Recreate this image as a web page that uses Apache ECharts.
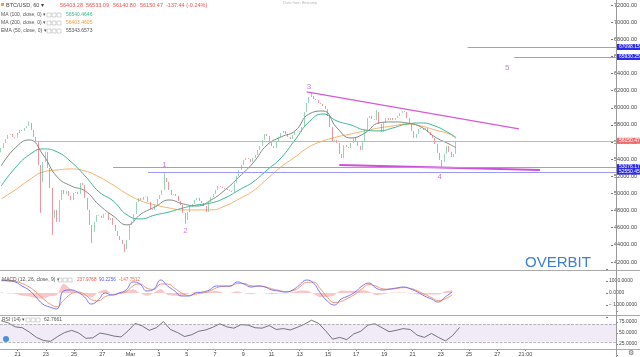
<!DOCTYPE html>
<html><head><meta charset="utf-8">
<script src="https://cdn.jsdelivr.net/npm/echarts@6/dist/echarts.min.js"></script>
<style>html,body{margin:0;padding:0;background:#fff}#c{width:640px;height:357px}</style>
</head><body><div id="c"></div>
<script>
// ---------------- DATA ----------------
// 4-hour closes (BTC/USD), first slot starts Feb 19 20:00
const firstOpen = 54800;
const closes = [
 55310,55900,56360,56830,56950,56600,56520,57060,57410,57300,
 57650,57880,58230,57410,56600,56010,53330,51340,53680,54850,
 52980,50640,47140,48080,46680,49240,50410,49940,50290,49710,
 49240,50060,50180,49940,51230,50990,49480,48080,46330,45510,
 46680,47490,47400,47140,47610,47730,46910,47140,46330,45630,
 45040,44580,44110,43520,44580,46330,46790,47610,49010,49480,
 49240,49590,49650,49010,48190,48080,48660,49360,49830,50410,
 51810,51340,50410,49830,49940,49710,49130,48660,47730,46910,
 47840,48430,48780,49240,49480,49130,48890,48540,47840,49010,
 49590,49940,50410,50880,50800,50640,50530,50410,50290,50180,
 51230,52040,52740,53330,53910,54150,54030,53680,54150,54500,
 55080,55550,56250,56950,56710,56130,55550,55310,56010,56600,
 57060,57300,56950,56600,56360,56830,57300,57250,57180,57760,
 59510,60560,61260,61380,61030,60910,60560,60450,60210,59860,
 59050,57760,56010,56250,55900,54610,54150,55660,55430,55310,
 55900,56480,56130,55550,55080,56130,57410,58810,59050,58700,
 58580,59510,58110,57180,58230,58810,58580,58810,58580,58810,
 59050,59400,59630,59510,58810,58110,57300,56480,56950,57530,
 57650,57410,57650,57180,56830,56480,55780,54730,53910,53680,
 54610,55550,54850,54260,54610,56150.47
];
const wickLows  = [[17,47730],[22,45160],[39,44230],[53,43180],[79,46440],[189,53100]];
const wickHighs = [[12,58400],[70,52510],[133,61730],[161,59750]];
// moving averages, one value per day (last = current)
const ma100 = [50880,52980,54500,55200,54850,53680,52040,50180,49130,47490,47030,47490,47840,48310,48660,48890,49480,50410,51340,52740,54150,56250,58350,59280,58460,57990,57410,57300,57650,58110,58230,57880,57060,56540.46];
const ma200 = [49360,50410,51580,52510,52740,52860,52630,51930,50990,49940,49130,48660,48310,48080,48080,48080,48540,49360,50290,51690,53100,54260,55430,56130,56600,56950,57300,57650,57880,58110,57880,57410,56950,56403.46];
const ema50 = [53210,55310,56250,54500,51930,50880,50290,48660,47380,46330,47610,48430,49240,48780,48540,49240,50410,51930,53560,55660,56600,57300,59280,59630,57650,56480,57060,58230,58350,58230,57760,56600,55780,55343.66];
// MACD / signal / RSI, one value every 12 hours
const macdLine = [1080,1000,920,580,250,-330,-920,-1170,-1330,170,250,80,-330,-920,-580,0,-170,0,250,920,750,170,330,1080,580,170,-250,-250,0,80,250,580,580,580,920,750,500,580,500,250,170,80,250,670,1080,830,0,-670,-1000,-500,-250,80,580,830,420,250,330,420,500,330,80,-250,-500,-750,-330,90.23];
const signalLine = [1000,1040,980,800,520,100,-450,-900,-1150,-600,-100,80,-100,-550,-650,-300,-150,-50,100,600,750,400,300,750,750,400,0,-200,-100,0,150,420,550,570,780,780,600,580,530,350,220,120,180,480,880,900,350,-350,-800,-700,-420,-100,350,700,580,350,320,380,450,380,180,-100,-380,-620,-480,-147.75];
const rsi = [78,73,64,62,52,40,33,31,42,51,56,50,38,39,50,47,43,41,55,72,66,56,62,76,58,51,42,46,54,57,63,71,64,61,69,68,62,61,67,58,60,57,63,70,79,72,55,36,40,35,48,54,68,71,62,53,56,60,58,45,40,49,40,32,44,62.77];
const xTickLabels = ['21','23','25','27','Mar','3','5','7','9','11','13','15','17','19','21','23','25','27','21:00'];
const lastPrice = 56150.47;
const supportLevels = [53076.17, 52550.45];
const upperLevels = [67098.15, 65930.25];
const waveLabels = [['1',70,53330],['2',79,45625],['3',132,62430],['4',188,51930],['5',217,64650]];
const upperTrend = [[131.4,61850],[221.5,57530]];
const lowerTrend = [[145,53330],[231.4,52740]];
const legendOHLC = ['56403.28','56533.09','56140.80','56150.47','-137.44 (-0.24%)'];

// ---------------- BUILD ----------------
const N = 262;
const start = Date.UTC(2021,1,19,20);
const cats = [];
for (let i=0;i<N;i++) cats.push(new Date(start + i*4*3600e3).toISOString().slice(5,13));

const candles = closes.map((c,i)=>{
  const o = i ? closes[i-1] : firstOpen;
  return [o, c, Math.min(o,c), Math.max(o,c)];
});
wickLows.forEach(([i,v])=>{candles[i][2]=Math.min(candles[i][2],v);});
wickHighs.forEach(([i,v])=>{candles[i][3]=Math.max(candles[i][3],v);});

const daySlot = k => Math.min(k*6, closes.length-1);
const halfSlot = k => Math.min(k*3, closes.length-1);
const maPts = arr => arr.map((v,k)=>[daySlot(k), v]);
const hPts = arr => arr.map((v,k)=>[halfSlot(k), v]);
const hist = macdLine.map((v,k)=>[halfSlot(k), v - signalLine[k]]);

const FONT = 'Liberation Sans, Arial, sans-serif';
const isTick = idx => idx>=7 && (idx-7)%12===0 && (idx-7)/12 < xTickLabels.length;

const ml = (a,b,color,width)=>[{coord:a, lineStyle:{color,width,type:'solid'}},{coord:b, lineStyle:{color,width,type:'solid'}}];
const markLines = [
  ml(upperTrend[0],upperTrend[1],'#d65ad8',1.3),
  ml(lowerTrend[0],lowerTrend[1],'#cf4fdc',2)
];

const chart = echarts.init(document.getElementById('c'));
const hiddenX = gi => ({type:'category', gridIndex:gi, data:cats, show:false, boundaryGap:true});
const option = {
  animation:false,
  textStyle:{fontFamily:FONT},
  grid:[
    {left:0, right:24, top:5, height:257},
    {left:0, right:24, top:269, height:48},
    {left:0, right:24, top:311, height:44}
  ],
  xAxis:[hiddenX(0), hiddenX(1), {
    type:'category', gridIndex:2, data:cats, boundaryGap:true, offset:-6,
    axisLine:{show:false},
    axisTick:{show:true, interval:(i)=>isTick(i), alignWithLabel:true, length:2, lineStyle:{color:'#888'}},
    axisLabel:{interval:(i)=>isTick(i), formatter:(v,i)=>xTickLabels[(i-7)/12], fontSize:5.5, color:'#444', margin:2}
  }],
  yAxis:[
    {type:'value', gridIndex:0, position:'right', min:42000, max:72000, interval:2000,
     splitLine:{show:false}, axisLine:{show:false}, axisTick:{show:true,length:2,lineStyle:{color:'#777'}},
     axisLabel:{formatter:v=>v.toFixed(2), fontSize:5.5, color:'#444', margin:3}},
    {type:'value', gridIndex:1, position:'right', min:-2000, max:2000, interval:1000,
     splitLine:{show:false}, axisLine:{show:false}, axisTick:{show:true,length:2,lineStyle:{color:'#777'}},
     axisLabel:{formatter:v=>Math.abs(v)===2000?'':v.toFixed(4).replace('-','\u2212 '), fontSize:5, color:'#444', margin:3}},
    {type:'value', gridIndex:2, position:'right', min:0, max:100, interval:25,
     splitLine:{show:false}, axisLine:{show:false}, axisTick:{show:true,length:2,lineStyle:{color:'#777'}},
     axisLabel:{formatter:v=>(v===0||v===100)?'':v.toFixed(4), fontSize:5, color:'#444', margin:3}}
  ],
  series:[
    {type:'line', xAxisIndex:0, yAxisIndex:0, data:maPts(ma200), smooth:0.5, symbol:'none', lineStyle:{color:'#f5b06b', width:1}, z:2},
    {type:'line', xAxisIndex:0, yAxisIndex:0, data:maPts(ma100), smooth:0.5, symbol:'none', lineStyle:{color:'#3db592', width:1}, z:2},
    {type:'line', xAxisIndex:0, yAxisIndex:0, data:maPts(ema50), smooth:0.5, symbol:'none', lineStyle:{color:'#7c8c80', width:1}, z:2},
    {type:'candlestick', xAxisIndex:0, yAxisIndex:0, data:candles, barWidth:'55%', z:3,
     itemStyle:{color:'#53b987', color0:'#eb4d5c', borderColor:'#53b987', borderColor0:'#eb4d5c', borderWidth:0.6},
     markLine:{silent:true, symbol:['none','none'], label:{show:false}, lineStyle:{type:'solid'}, data:markLines, animation:false}},
    {type:'scatter', xAxisIndex:0, yAxisIndex:0, symbolSize:0, z:5,
     data:waveLabels.map(w=>({value:[w[1],w[2]], name:w[0]})),
     label:{show:true, position:'inside', formatter:p=>p.name, color:'#b55ccc', fontSize:8}},
    // MACD
    {type:'line', xAxisIndex:1, yAxisIndex:1, data:hist, smooth:0.3, symbol:'none', lineStyle:{width:0}, areaStyle:{color:'rgba(240,110,110,0.55)', origin:0}},
    {type:'line', xAxisIndex:1, yAxisIndex:1, data:hPts(signalLine), smooth:0.5, symbol:'none', lineStyle:{color:'#f08a6a', width:0.9}},
    {type:'line', xAxisIndex:1, yAxisIndex:1, data:hPts(macdLine), smooth:0.5, symbol:'none', lineStyle:{color:'#6a6af2', width:0.9}},
    // RSI
    {type:'line', xAxisIndex:2, yAxisIndex:2, data:hPts(rsi), symbol:'none', lineStyle:{color:'#555', width:0.8},
     markArea:{silent:true, itemStyle:{color:'rgba(180,140,210,0.18)'}, data:[[{yAxis:30},{yAxis:70}]]},
     markLine:{silent:true, symbol:['none','none'], label:{show:false}, lineStyle:{color:'#999', type:'dashed', width:0.7},
       data:[{yAxis:70},{yAxis:30}]}}
  ]
};
chart.setOption(option);

// ---------------- GRAPHICS ----------------
const g = [];
const line = (x1,y1,x2,y2,c,w)=>({type:'line', shape:{x1,y1,x2,y2}, style:{stroke:c, lineWidth:w||1}, silent:true, z:50});
const txt = (x,y,t,c,fs)=>({type:'text', x, y, style:{text:t, fill:c, font:(fs||5)+'px '+FONT, textVerticalAlign:'middle'}, silent:true, z:60});
g.push(line(0,270.5,640,270.5,'#aaa'));
g.push(line(0,315.5,640,315.5,'#aaa'));
g.push(line(0,349.5,640,349.5,'#aaa'));
g.push(line(616.5,0,616.5,357,'#999'));
// horizontal levels: start slot -> right edge of plot, positioned through the axes
const hline = (slot,v,c)=>{
  const p = chart.convertToPixel({xAxisIndex:0, yAxisIndex:0}, [slot, v]);
  const y = Math.round(p[1]) + 0.5;
  g.push(line(p[0], y, 616, y, c, 1));
};
hline(15, lastPrice, '#f4a0a0');
hline(48, supportLevels[0], '#9a9af0');
hline(63, supportLevels[1], '#9a9af0');
hline(200, upperLevels[0], '#9a9af0');
hline(220, upperLevels[1], '#9a9af0');
// price boxes
const box = (v,c)=>{
  const y = chart.convertToPixel({yAxisIndex:0}, v);
  g.push({type:'rect', shape:{x:617,y:y-3,width:23,height:6}, style:{fill:c}, z:55, silent:true});
  g.push(txt(619,y,v.toFixed(2),'#fff',5));
};
box(lastPrice,'#f06c6c');
supportLevels.forEach(v=>box(v,'#2c2ce8'));
upperLevels.forEach(v=>box(v,'#2c2ce8'));
// legends
const icons = (x,y)=>{for(let k=0;k<3;k++) g.push({type:'rect', shape:{x:x+k*5,y:y-2,width:4,height:4}, style:{fill:'none',stroke:'#aaa',lineWidth:0.5}, z:60, silent:true});};
g.push({type:'rect', shape:{x:1,y:3,width:3,height:3}, style:{fill:'#f0a040'}, z:60, silent:true});
g.push(txt(6,5,'BTC/USD, 60 \u25BE','#444',5.5));
const ox = [60,86,113,140,166];
legendOHLC.forEach((t,k)=>g.push(txt(ox[k],5,t,'#ef5350',5.5)));
g.push(txt(1,15,'MA (100, close, 0) \u25BE','#555',5)); icons(47,15); g.push(txt(66,15,'56540.4646','#3db592',5));
g.push(txt(1,23,'MA (200, close, 0) \u25BE','#555',5)); icons(47,23); g.push(txt(66,23,'56403.4605','#f5a040',5));
g.push(txt(1,31,'EMA (50, close, 0) \u25BE','#555',5)); icons(47,31); g.push(txt(66,31,'55343.6573','#555',5));
g.push(txt(2,280,'MACD (12, 26, close, 9) \u25BE','#555',5)); icons(58,280);
g.push(txt(77,280,'237.9768','#ef5350',4.7)); g.push(txt(99,280,'90.2256','#5b5bf0',4.7)); g.push(txt(119,280,'-147.7512','#ef6c4c',4.7));
g.push(txt(2,320,'RSI (14) \u25BE','#555',5)); icons(26,320); g.push(txt(44,320,'62.7661','#555',5));
g.push(txt(525,263,'OVERBIT','#3d7fd8',15));
g.push(txt(283,3,'Data from Bitstamp','#bbb',4));
g.push(txt(628,353,'\u2699','#666',7));
g.push({type:'circle', shape:{cx:6,cy:339,r:3}, style:{fill:'#4a90d9'}, z:60, silent:true});
chart.setOption({graphic:g});
</script></body></html>
